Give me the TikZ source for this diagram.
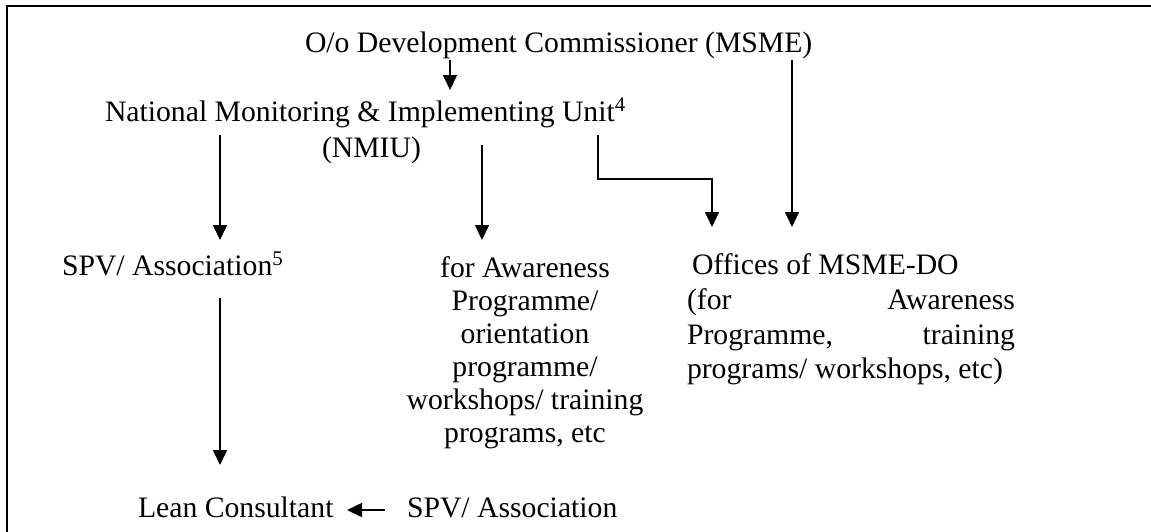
\documentclass[tikz,border=0pt]{standalone}
\usepackage{fontspec}
\setmainfont{Liberation Serif}
\usetikzlibrary{arrows.meta}
\tikzset{
  lbl/.style={inner sep=0pt, outer sep=0pt, anchor=base west, font=\fontsize{29.7}{34}\selectfont},
  clbl/.style={inner sep=0pt, outer sep=0pt, anchor=base, font=\fontsize{29.7}{34}\selectfont},
  arr/.style={line width=1.6pt, -{Triangle[length=15pt,width=14pt]}},
  frame/.style={line width=2.2pt}
}
\begin{document}
\begin{tikzpicture}[x=1pt,y=-1pt]
\useasboundingbox (0,0) rectangle (1151,531);
\begin{scope}
\clip (0,0) rectangle (1151,531);
\draw[frame] (7,6) rectangle (1170,560);
\end{scope}
% texts
\node[lbl] (dc) at (305,52) {O/o Development Commissioner (MSME)};
\node[lbl] (nmiu1) at (105,121) {National Monitoring \& Implementing Unit\textsuperscript{4}};
\node[lbl] (nmiu2) at (322,157) {(NMIU)};
\node[lbl] (spv) at (62,275) {SPV/ Association\textsuperscript{5}};
\node[clbl] (aw1) at (525,277) {for Awareness};
\node[clbl] (aw2) at (525,310) {Programme/};
\node[clbl] (aw3) at (525,343) {orientation};
\node[clbl] (aw4) at (525,376) {programme/};
\node[clbl] (aw5) at (525,409) {workshops/ training};
\node[clbl] (aw6) at (525,442) {programs, etc};
\node[lbl] (of1) at (692,274) {Offices of MSME-DO};
\node[lbl] (of2) at (687,309) {\makebox[328pt][s]{(for Awareness}};
\node[lbl] (of3) at (687,344) {\makebox[328pt][s]{Programme, training}};
\node[lbl] (of4) at (687,378) {programs/ workshops, etc)};
\node[lbl] (lean) at (138,517) {Lean Consultant};
\node[lbl] (spv2) at (407,517) {SPV/ Association};
% connector end points
\coordinate (a1s) at (450,60);   \coordinate (a1e) at (450,90);
\coordinate (a2s) at (220,135);  \coordinate (a2e) at (220,240);
\coordinate (a3s) at (482,145);  \coordinate (a3e) at (482,240);
\coordinate (a4s) at (598,135);  \coordinate (a4e) at (712,227);
\coordinate (a5s) at (792,60);   \coordinate (a5e) at (792,227);
\coordinate (a6s) at (220,298);  \coordinate (a6e) at (220,465);
\coordinate (a7s) at (385,510);  \coordinate (a7e) at (347,510);
% connectors
\draw[arr] (a1s) -- (a1e);
\draw[arr] (a2s) -- (a2e);
\draw[arr] (a3s) -- (a3e);
\draw[arr] (a4s) -- (598,179) -- (712,179) -- (a4e);
\draw[arr] (a5s) -- (a5e);
\draw[arr] (a6s) -- (a6e);
\draw[arr] (a7s) -- (a7e);
\end{tikzpicture}
\end{document}
